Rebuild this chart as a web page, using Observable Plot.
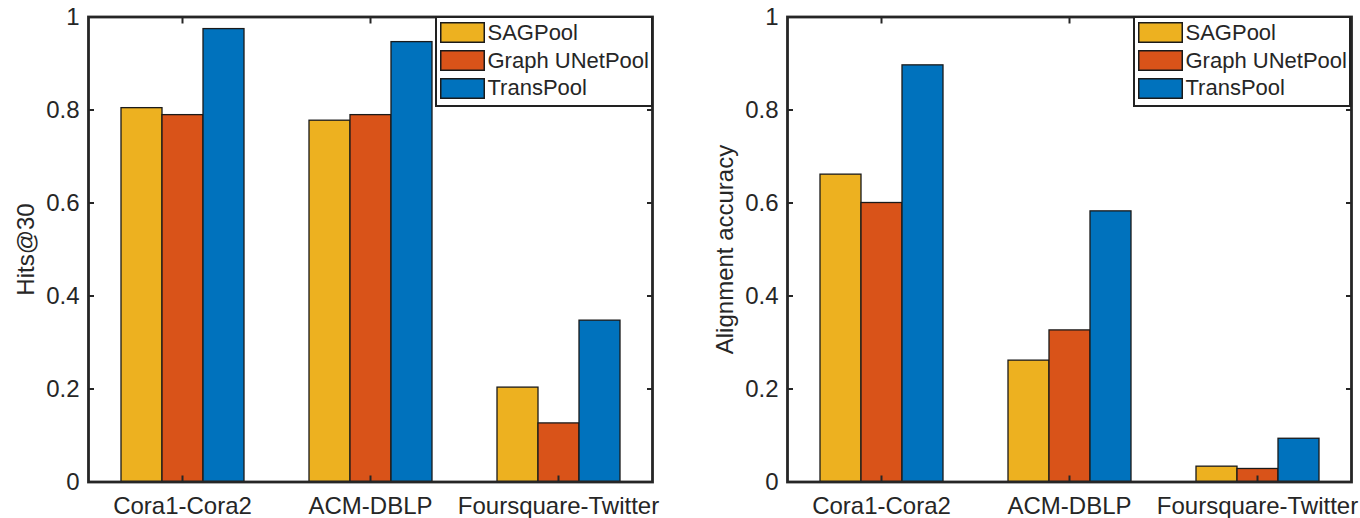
<!DOCTYPE html>
<html>
<head>
<meta charset="utf-8">
<script src="https://cdn.jsdelivr.net/npm/d3@7"></script>
<script src="https://cdn.jsdelivr.net/npm/@observablehq/plot@0.6"></script>
<style>
  html, body { margin: 0; padding: 0; background: #fff; }
  #wrap { position: relative; width: 1360px; height: 518px; display: flex; }
  #wrap > svg { display: block; flex: none; }
  .legbox { position: absolute; top: 15.5px; width: 218.5px; height: 91px; box-sizing: border-box;
            border: 2.5px solid #222; background: #fff; padding: 1.5px 0 0 3.5px; }
  .legbox .lg-swatches { display: flex !important; flex-direction: column !important; align-items: flex-start !important;
            min-height: 0 !important; margin: 0 !important; font-family: 'Liberation Sans', Arial, sans-serif !important;
            font-size: 22px !important; color: #262626 !important; }
  .legbox .lg-swatch { display: flex !important; align-items: center !important; margin: 0 !important; height: 27.7px; padding: 0 !important; }
  .legbox .lg-swatch svg { margin-right: 2.5px !important; overflow: hidden; }
  .legbox .lg-swatch svg rect { stroke: #1a1a1a; stroke-width: 3; }
</style>
</head>
<body>
<div id="wrap"></div>
<script>
const datasets = ["Cora1-Cora2", "ACM-DBLP", "Foursquare-Twitter"];
const methods = ["SAGPool", "Graph UNetPool", "TransPool"];
const colors = ["#EDB120", "#D95319", "#0072BD"];

// Left panel: Hits@30 (per dataset)
const hitsSAGPool = [0.804, 0.777, 0.203];
const hitsGraphUNetPool = [0.789, 0.789, 0.126];
const hitsTransPool = [0.974, 0.946, 0.347];

// Right panel: Alignment accuracy (per dataset)
const accSAGPool = [0.661, 0.261, 0.033];
const accGraphUNetPool = [0.600, 0.326, 0.028];
const accTransPool = [0.896, 0.582, 0.093];

const yTicks = [0, 0.2, 0.4, 0.6, 0.8, 1];
const yTickLabels = ["0", "0.2", "0.4", "0.6", "0.8", "1"];

function toRows(series) {
  return datasets.flatMap((d, i) => methods.map((m, j) => ({dataset: d, method: m, value: series[j][i]})));
}

const FONT = "'Liberation Sans', Arial, sans-serif";
const AX = "#262626";

function panel(rows, label, ml, mr) {
  return Plot.plot({
    width: 680, height: 518,
    marginLeft: ml, marginRight: mr, marginTop: 16.5, marginBottom: 36.5,
    style: {fontFamily: FONT, fontSize: "24px", color: AX, background: "#fff", overflow: "visible"},
    fx: {domain: datasets, padding: 0, label: null},
    x: {domain: methods, paddingInner: 0, paddingOuter: 0.745, axis: null},
    y: {domain: [0, 1]},
    color: {domain: methods, range: colors},
    marks: [
      Plot.barY(rows, {fx: "dataset", x: "method", y: "value", fill: "method", stroke: "#1a1a1a", strokeWidth: 1.3}),
      Plot.frame({facet: "super", stroke: AX, strokeWidth: 2.8}),
      Plot.axisY({anchor: "left", ticks: yTicks, tickSize: 6, dx: 6, tickFormat: () => "", label: null, stroke: AX, strokeWidth: 2}),
      Plot.axisY({anchor: "right", ticks: yTicks, tickSize: 6, dx: -6, tickFormat: () => "", label: null, stroke: AX, strokeWidth: 2}),
      Plot.axisY({anchor: "left", ticks: yTicks, tickSize: 0, tickPadding: 9,
        tickFormat: d => yTickLabels[yTicks.indexOf(d)],
        label, labelAnchor: "center", labelOffset: 72, labelArrow: "none", fontSize: 24, fill: AX}),
      Plot.axisFx({anchor: "bottom", tickSize: 6, dy: -6, tickFormat: () => "", label: null, stroke: AX, strokeWidth: 2}),
      Plot.axisFx({anchor: "top", tickSize: 6, dy: 6, tickFormat: () => "", label: null, stroke: AX, strokeWidth: 2}),
      Plot.axisFx({anchor: "bottom", tickSize: 0, tickPadding: 15, label: null, fontSize: 24, fill: AX})
    ]
  });
}

const wrap = document.getElementById("wrap");
wrap.append(panel(toRows([hitsSAGPool, hitsGraphUNetPool, hitsTransPool]), "Hits@30", 87, 28));
wrap.append(panel(toRows([accSAGPool, accGraphUNetPool, accTransPool]), "Alignment accuracy", 106, 9));

function legendBox(left) {
  const box = document.createElement("div");
  box.className = "legbox";
  box.style.left = left + "px";
  box.append(Plot.legend({
    color: {domain: methods, range: colors},
    legend: "swatches", swatchWidth: 45, swatchHeight: 21, className: "lg"
  }));
  wrap.append(box);
}
legendBox(434.5);
legendBox(1132.5);
</script>
</body>
</html>
